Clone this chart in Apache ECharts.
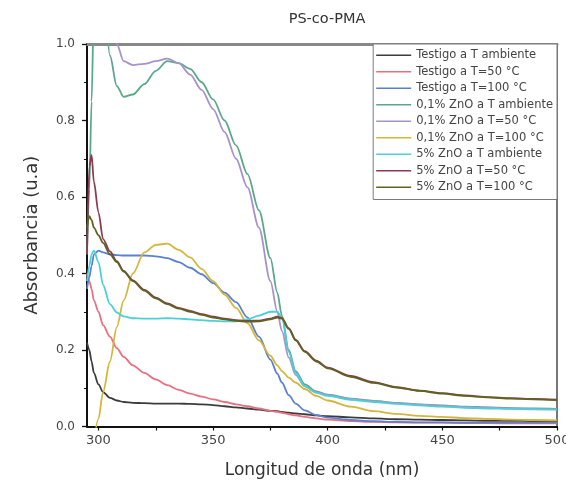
<!DOCTYPE html>
<html>
<head>
<meta charset="utf-8">
<style>
  html, body { margin: 0; padding: 0; background: #fff; }
  #chart { width: 566px; height: 485px; }
</style>
<script src="https://cdn.jsdelivr.net/npm/echarts@6/dist/echarts.min.js"></script>
</head>
<body>
<div id="chart"></div>
<script>
// Wavelength grid (nm) shared by all spectra
const wavelengths = [295,296,297,298,300,302,305,308,311,315,320,325,330,335,340,345,350,355,360,365,370,375,378,380,383,386,390,395,400,410,420,430,440,450,460,470,480,490,500];

const seriesNames = [
  'Testigo a T ambiente',
  'Testigo a T=50 °C',
  'Testigo a T=100 °C',
  '0,1% ZnO a T ambiente',
  '0,1% ZnO a T=50 °C',
  '0,1% ZnO a T=100 °C',
  '5% ZnO a T ambiente',
  '5% ZnO a T=50 °C',
  '5% ZnO a T=100 °C'
];

// Absorbance (u.a) for each sample
const testigoAmb = [0.22,0.20,0.17,0.14,0.11,0.09,0.075,0.068,0.064,0.062,0.061,0.060,0.060,0.060,0.059,0.058,0.056,0.053,0.050,0.047,0.044,0.041,0.040,0.038,0.036,0.034,0.032,0.029,0.027,0.024,0.021,0.019,0.018,0.017,0.016,0.015,0.015,0.014,0.014];
const testigo50 = [0.40,0.38,0.36,0.33,0.30,0.265,0.235,0.205,0.182,0.16,0.14,0.123,0.108,0.096,0.086,0.078,0.071,0.064,0.058,0.053,0.047,0.041,0.038,0.036,0.032,0.029,0.025,0.021,0.018,0.014,0.012,0.011,0.010,0.010,0.009,0.009,0.008,0.008,0.008];
const testigo100 = [0.36,0.39,0.42,0.45,0.46,0.455,0.45,0.448,0.447,0.447,0.447,0.445,0.44,0.43,0.415,0.398,0.375,0.35,0.325,0.285,0.235,0.175,0.138,0.115,0.082,0.06,0.042,0.03,0.023,0.017,0.014,0.012,0.011,0.011,0.010,0.010,0.010,0.010,0.010];
const zno01Amb = [0.45,0.62,0.85,1.10,1.20,1.15,0.97,0.89,0.862,0.868,0.895,0.93,0.955,0.95,0.935,0.90,0.855,0.80,0.735,0.66,0.565,0.44,0.35,0.29,0.20,0.145,0.11,0.092,0.083,0.073,0.067,0.062,0.058,0.055,0.052,0.050,0.048,0.047,0.046];
const zno01T50 = [1.3,1.3,1.3,1.3,1.3,1.25,1.15,1.0,0.955,0.945,0.948,0.955,0.962,0.95,0.92,0.88,0.83,0.77,0.70,0.625,0.52,0.38,0.30,0.25,0.18,0.135,0.105,0.09,0.082,0.072,0.066,0.061,0.057,0.054,0.051,0.049,0.047,0.046,0.045];
const zno01T100 = [null,null,null,-0.04,0.02,0.09,0.17,0.26,0.33,0.40,0.455,0.475,0.478,0.462,0.442,0.412,0.38,0.345,0.31,0.27,0.225,0.185,0.16,0.145,0.128,0.115,0.098,0.08,0.068,0.052,0.04,0.033,0.028,0.025,0.022,0.02,0.018,0.017,0.016];
const zno5Amb = [0.38,0.42,0.45,0.46,0.43,0.37,0.32,0.298,0.288,0.283,0.282,0.282,0.283,0.282,0.28,0.278,0.276,0.275,0.275,0.28,0.29,0.30,0.30,0.285,0.195,0.14,0.105,0.088,0.08,0.07,0.064,0.059,0.055,0.052,0.049,0.047,0.046,0.045,0.044];
const zno5T50 = [0.45,0.68,0.71,0.64,0.56,0.49,0.458,0.432,0.407,0.382,0.357,0.337,0.322,0.31,0.302,0.294,0.287,0.282,0.278,0.276,0.277,0.282,0.287,0.284,0.257,0.227,0.197,0.172,0.154,0.132,0.116,0.103,0.094,0.087,0.081,0.077,0.074,0.072,0.070];
const zno5T100 = [0.52,0.55,0.54,0.52,0.50,0.48,0.45,0.43,0.405,0.38,0.355,0.335,0.32,0.308,0.30,0.292,0.285,0.28,0.276,0.274,0.275,0.28,0.285,0.282,0.255,0.225,0.195,0.17,0.152,0.13,0.114,0.102,0.093,0.086,0.08,0.076,0.073,0.071,0.069];

const allValues = [testigoAmb, testigo50, testigo100, zno01Amb, zno01T50, zno01T100, zno5Amb, zno5T50, zno5T100];
const lineColors = ['#3c3c3c','#e8707e','#5b80d0','#5aa88a','#a892cc','#d6b63a','#4ccfd8','#8c3a50','#5e6420'];

// Axis tick positions
const xMajorTicks = [300, 350, 400, 450, 500];
const xAllTicks = [300, 325, 350, 375, 400, 425, 450, 475, 500];

const font = 'DejaVu Sans';

const chart = echarts.init(document.getElementById('chart'), null, { renderer: 'canvas' });

const series = seriesNames.map((name, k) => ({
  name: name,
  type: 'line',
  xAxisIndex: 0,
  yAxisIndex: 0,
  symbol: 'none',
  smooth: 0.3,
  smoothMonotone: 'x',
  clip: true,
  connectNulls: false,
  lineStyle: { width: 1.8, color: lineColors[k] },
  itemStyle: { color: lineColors[k] },
  data: wavelengths.map((w, i) => [w, allValues[k][i]])
}));

chart.setOption({
  animation: false,
  backgroundColor: '#fff',
  title: {
    text: 'PS-co-PMA',
    left: 322,
    textAlign: 'center',
    top: 7,
    textStyle: { fontFamily: font, fontSize: 14.5, fontWeight: 'normal', color: '#333' }
  },
  legend: {
    orient: 'vertical',
    right: 9,
    top: 44,
    icon: 'rect',
    itemWidth: 35,
    itemHeight: 1.6,
    itemGap: 4,
    padding: [5, 4, 6, 3],
    borderColor: '#7a7a7a',
    borderWidth: 1,
    backgroundColor: '#fff',
    textStyle: { fontFamily: font, fontSize: 11.5, color: '#444', lineHeight: 12.5 },
    data: seriesNames
  },
  grid: {
    left: 87, right: 9, top: 44, bottom: 58.5,
    outerBoundsMode: 'none',
    containLabel: false
  },
  xAxis: [
    {
      type: 'value',
      position: 'bottom',
      min: 295,
      max: 500,
      name: 'Longitud de onda (nm)',
      nameLocation: 'middle',
      nameGap: 36,
      nameTextStyle: { fontFamily: font, fontSize: 17, color: '#333' },
      axisLine: { onZero: false, lineStyle: { color: '#111', width: 2 } },
      axisTick: { inside: false, length: 4, customValues: xAllTicks, lineStyle: { color: '#111', width: 1.2 } },
      axisLabel: { customValues: xMajorTicks, margin: 8, fontFamily: font, fontSize: 13, color: '#444' },
      splitLine: { show: false }
    },
    {
      // top frame edge
      type: 'value',
      position: 'top',
      min: 295,
      max: 500,
      axisLine: { show: true, onZero: false, lineStyle: { color: '#888', width: 3 } },
      axisTick: { show: false },
      axisLabel: { show: false },
      splitLine: { show: false }
    }
  ],
  yAxis: [
    {
      type: 'value',
      position: 'left',
      min: 0,
      max: 1,
      interval: 0.2,
      name: 'Absorbancia (u.a)',
      nameLocation: 'middle',
      nameGap: 46,
      nameTextStyle: { fontFamily: font, fontSize: 18, color: '#333' },
      axisLine: { onZero: false, lineStyle: { color: '#111', width: 2 } },
      axisTick: { inside: false, length: 5, lineStyle: { color: '#111', width: 1.3 } },
      minorTick: { show: true, splitNumber: 2, length: 3, lineStyle: { color: '#111', width: 1 } },
      axisLabel: { margin: 12, fontFamily: font, fontSize: 12, color: '#444', formatter: v => v.toFixed(1) },
      splitLine: { show: false }
    },
    {
      // right frame edge
      type: 'value',
      position: 'right',
      min: 0,
      max: 1,
      interval: 0.2,
      axisLine: { show: true, onZero: false, lineStyle: { color: '#777', width: 2 } },
      axisTick: { show: false },
      axisLabel: { show: false },
      splitLine: { show: false }
    }
  ],
  series: series
});
</script>
</body>
</html>
